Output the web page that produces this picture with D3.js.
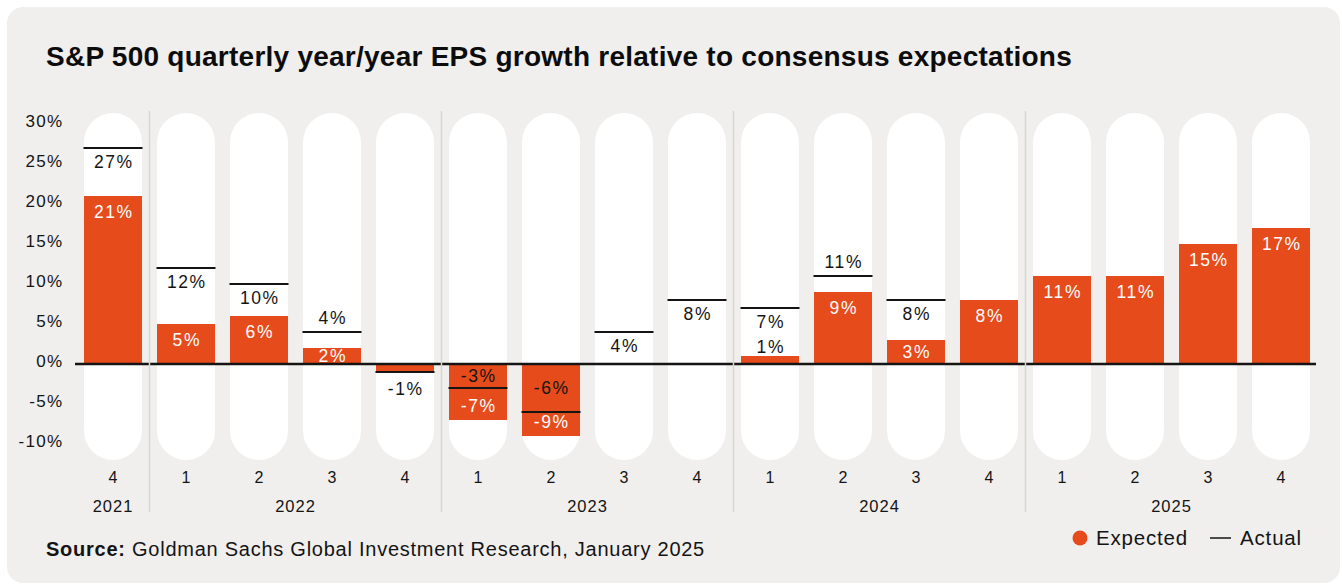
<!DOCTYPE html>
<html>
<head>
<meta charset="utf-8">
<script src="https://cdn.jsdelivr.net/npm/d3@7"></script>
<style>
  html, body { margin: 0; padding: 0; background: #ffffff; }
  svg { display: block; font-family: "Liberation Sans", Arial, Helvetica, sans-serif; }
</style>
</head>
<body>
<svg id="chart" width="1342" height="585"></svg>
<script>
// S&P 500 quarterly year/year EPS growth (%), expected vs. actual
const quarters = ["4", "1", "2", "3", "4", "1", "2", "3", "4", "1", "2", "3", "4", "1", "2", "3", "4"];
const quarterYears = ["2021", "2022", "2022", "2022", "2022", "2023", "2023", "2023", "2023",
                      "2024", "2024", "2024", "2024", "2025", "2025", "2025", "2025"];
const years = ["2021", "2022", "2023", "2024", "2025"];
const expected = [21, 5, 6, 2, -1, -7, -9, null, null, 1, 9, 3, 8, 11, 11, 15, 17];
const actual = [27, 12, 10, 4, -1, -3, -6, 4, 8, 7, 11, 8, null, null, null, null, null];
const yTicks = [30, 25, 20, 15, 10, 5, 0, -5, -10];

const titleText = "S&P 500 quarterly year/year EPS growth relative to consensus expectations";
const sourceLabel = "Source:";
const sourceText = " Goldman Sachs Global Investment Research, January 2025";
const legendLabels = ["Expected", "Actual"];

// Styling
const ORANGE = "#e64b1b";
const INK = "#141414";
const PANEL = "#f0efed";
const SEP = "#d8d6d3";
const pct = v => `${v}%`;

// Stretch a text element to a given width by adjusting its letter spacing
function fitWidth(sel, target) {
  const node = sel.node();
  const w = node.getComputedTextLength();
  const n = node.getNumberOfChars();
  sel.attr("letter-spacing", (target - w) / n);
}

const rows = quarters.map((q, i) => ({
  key: quarterYears[i] + "Q" + q,
  quarter: q,
  year: quarterYears[i],
  exp: expected[i],
  act: actual[i]
}));

const svg = d3.select("#chart");

// Card background
svg.append("rect")
  .attr("x", 7).attr("y", 7)
  .attr("width", 1333).attr("height", 576)
  .attr("rx", 16)
  .attr("fill", PANEL);

// Title
const title = svg.append("text")
  .attr("x", 46).attr("y", 66)
  .attr("font-size", 28)
  .attr("font-weight", 700)
  .attr("fill", "#0c0c0c")
  .text(titleText);
fitWidth(title, 1026);

// Scales
const x = d3.scaleBand()
  .domain(rows.map(d => d.key))
  .range([76.5, 1317.5])
  .paddingInner(15 / 73)
  .paddingOuter(7.5 / 73);

const y = d3.scaleLinear()
  .domain([-10, 30])
  .range([444, 124]);

const bw = x.bandwidth();
const halfGap = x.step() * x.paddingInner() / 2;
const y0 = y(0);

// White rounded tracks behind each quarter
const trackTop = y(30) - 11;
const trackBottom = y(-10) + 16;
svg.append("g")
  .selectAll("rect")
  .data(rows)
  .join("rect")
  .attr("x", d => x(d.key))
  .attr("y", trackTop)
  .attr("width", bw)
  .attr("height", trackBottom - trackTop)
  .attr("rx", bw / 2).attr("ry", bw / 2)
  .attr("fill", "#ffffff");

// Y axis labels
const yAxis = d3.axisLeft(y).tickValues(yTicks).tickFormat(pct).tickSize(0).tickPadding(0);
svg.append("g")
  .attr("transform", "translate(62,-3)")
  .call(yAxis)
  .call(g => g.select(".domain").remove())
  .call(g => g.selectAll("text")
    .attr("font-size", 17)
    .attr("font-family", "Liberation Sans, Arial, sans-serif")
    .attr("letter-spacing", 1.3)
    .attr("dx", 1.3)
    .attr("fill", INK));

// Expected bars
svg.append("g")
  .selectAll("rect")
  .data(rows.filter(d => d.exp !== null))
  .join("rect")
  .attr("x", d => x(d.key))
  .attr("y", d => Math.min(y(d.exp), y0))
  .attr("width", bw)
  .attr("height", d => Math.abs(y(d.exp) - y0))
  .attr("fill", ORANGE);

// Zero baseline
svg.append("line")
  .attr("x1", x.range()[0] - 1.5).attr("x2", x.range()[1] - 1.5)
  .attr("y1", y0).attr("y2", y0)
  .attr("stroke", INK)
  .attr("stroke-width", 2.5);

// Year separators
const firstOfYear = years.slice(1).map(yr => rows.find(d => d.year === yr).key);
svg.append("g")
  .selectAll("line")
  .data(firstOfYear)
  .join("line")
  .attr("x1", k => x(k) - halfGap).attr("x2", k => x(k) - halfGap)
  .attr("y1", 111).attr("y2", 512)
  .attr("stroke", SEP)
  .attr("stroke-width", 1.5);

// Actual markers
svg.append("g")
  .selectAll("line")
  .data(rows.filter(d => d.act !== null))
  .join("line")
  .attr("x1", d => x(d.key) - 0.5).attr("x2", d => x(d.key) + bw + 0.5)
  .attr("y1", d => y(d.act)).attr("y2", d => y(d.act))
  .attr("stroke", INK)
  .attr("stroke-width", 1.8);

// Value labels
const labels = [];
rows.forEach(d => {
  const cx = x(d.key) + bw / 2;
  if (d.exp !== null) {
    const end = y(d.exp);
    const h = Math.abs(end - y0);
    if (d.act !== null && d.act === d.exp) {
      // one shared label outside the bar
      labels.push({ x: cx, y: d.exp >= 0 ? end - 10 : end + 17, t: pct(d.exp), c: INK });
    } else if (h < 14) {
      labels.push({ x: cx, y: d.exp >= 0 ? end - 9 : end + 17, t: pct(d.exp), c: INK });
    } else if (d.exp >= 0) {
      labels.push({ x: cx, y: end + Math.min(16, h / 2), t: pct(d.exp), c: "#ffffff" });
    } else {
      labels.push({ x: cx, y: end - 14, t: pct(d.exp), c: "#ffffff" });
    }
  }
  if (d.act !== null && d.act !== d.exp) {
    const ly = y(d.act);
    if (d.act < 0) {
      labels.push({ x: cx, y: (ly + y0) / 2, t: pct(d.act), c: INK });
    } else {
      const crowded = d.exp !== null && d.exp > 0 && (y(d.exp) - ly) < 22;
      labels.push({ x: cx, y: crowded ? ly - 14 : ly + 14, t: pct(d.act), c: INK });
    }
  }
});

svg.append("g")
  .selectAll("text")
  .data(labels)
  .join("text")
  .attr("x", d => d.x)
  .attr("y", d => d.y)
  .attr("dx", 0.8)
  .attr("text-anchor", "middle")
  .attr("dominant-baseline", "central")
  .attr("font-size", 17.5)
  .attr("letter-spacing", 1.6)
  .attr("fill", d => d.c)
  .text(d => d.t);

// Quarter labels
svg.append("g")
  .selectAll("text")
  .data(rows)
  .join("text")
  .attr("x", d => x(d.key) + bw / 2)
  .attr("y", 477)
  .attr("text-anchor", "middle")
  .attr("dominant-baseline", "central")
  .attr("font-size", 16)
  .attr("fill", INK)
  .text(d => d.quarter);

// Year labels, centred under their quarters
svg.append("g")
  .selectAll("text")
  .data(years)
  .join("text")
  .attr("x", yr => {
    const ks = rows.filter(d => d.year === yr).map(d => d.key);
    return (x(ks[0]) + x(ks[ks.length - 1]) + bw) / 2;
  })
  .attr("y", 506)
  .attr("text-anchor", "middle")
  .attr("dominant-baseline", "central")
  .attr("font-size", 16.5)
  .attr("letter-spacing", 1)
  .attr("fill", INK)
  .text(yr => yr);

// Source note
const src = svg.append("text")
  .attr("x", 46).attr("y", 556)
  .attr("font-size", 20)
  .attr("fill", INK);
src.append("tspan").attr("font-weight", 700).text(sourceLabel);
src.append("tspan").text(sourceText);
fitWidth(src, 659);

// Legend (right aligned)
const legend = svg.append("g").attr("font-size", 20.5).attr("fill", INK);
const actText = legend.append("text").attr("y", 545).text(legendLabels[1]);
fitWidth(actText, 62);
const actX = 1302 - 62;
actText.attr("x", actX);
legend.append("line")
  .attr("x1", actX - 30).attr("x2", actX - 9)
  .attr("y1", 538).attr("y2", 538)
  .attr("stroke", INK).attr("stroke-width", 1.5);
const expText = legend.append("text").attr("y", 545).text(legendLabels[0]);
fitWidth(expText, 92);
const expX = actX - 52 - 92;
expText.attr("x", expX);
legend.append("circle")
  .attr("cx", expX - 16).attr("cy", 538)
  .attr("r", 7.5)
  .attr("fill", ORANGE);
</script>
</body>
</html>
